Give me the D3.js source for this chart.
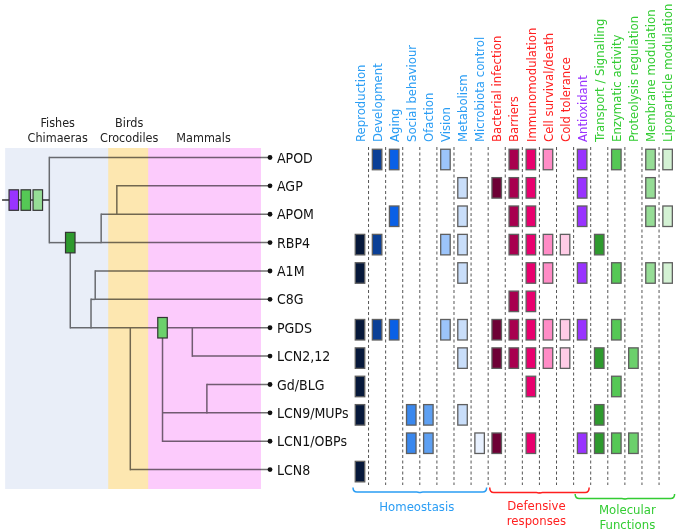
<!DOCTYPE html>
<html><head><meta charset="utf-8">
<script src="https://cdn.jsdelivr.net/npm/d3@7"></script>
<style>
body{margin:0;background:#fff}
svg{display:block;font-family:"DejaVu Sans Condensed","DejaVu Sans",sans-serif;font-stretch:condensed}
</style></head><body><svg id="c" width="677" height="532"></svg>
<script>
// ---------------- DATA ----------------
const genes = ["APOD","AGP","APOM","RBP4","A1M","C8G","PGDS","LCN2,12","Gd/BLG","LCN9/MUPs","LCN1/OBPs","LCN8"];
const functions = ["Reproduction","Development","Aging","Social behaviour","Ofaction","Vision","Metabolism","Microbiota control",
  "Bacterial infection","Barriers","Immunomodulation","Cell survival/death","Cold tolerance","Antioxidant",
  "Transport / Signalling","Enzymatic activity","Proteolysis regulation","Membrane modulation","Lipoparticle modulation"];
const functionGroup = ["H","H","H","H","H","H","H","H","D","D","D","D","D","A","M","M","M","M","M"];
const groups = [
  {key:"H", lines:["Homeostasis"], first:"Reproduction", last:"Microbiota control"},
  {key:"D", lines:["Defensive","responses"], first:"Bacterial infection", last:"Antioxidant"},
  {key:"M", lines:["Molecular","Functions"], first:"Antioxidant", last:"Lipoparticle modulation"}
];
const annotations = {
  "APOD": ["Development","Aging","Vision","Barriers","Immunomodulation","Cell survival/death","Antioxidant","Enzymatic activity","Membrane modulation","Lipoparticle modulation"],
  "AGP": ["Metabolism","Bacterial infection","Barriers","Immunomodulation","Antioxidant","Membrane modulation"],
  "APOM": ["Aging","Metabolism","Barriers","Immunomodulation","Antioxidant","Membrane modulation","Lipoparticle modulation"],
  "RBP4": ["Reproduction","Development","Vision","Metabolism","Barriers","Immunomodulation","Cell survival/death","Cold tolerance","Transport / Signalling"],
  "A1M": ["Reproduction","Metabolism","Immunomodulation","Cell survival/death","Antioxidant","Enzymatic activity","Membrane modulation","Lipoparticle modulation"],
  "C8G": ["Barriers","Immunomodulation"],
  "PGDS": ["Reproduction","Development","Aging","Vision","Metabolism","Bacterial infection","Barriers","Immunomodulation","Cell survival/death","Cold tolerance","Antioxidant","Enzymatic activity"],
  "LCN2,12": ["Reproduction","Metabolism","Bacterial infection","Barriers","Immunomodulation","Cell survival/death","Cold tolerance","Transport / Signalling","Proteolysis regulation"],
  "Gd/BLG": ["Reproduction","Immunomodulation","Enzymatic activity"],
  "LCN9/MUPs": ["Reproduction","Social behaviour","Ofaction","Metabolism","Transport / Signalling"],
  "LCN1/OBPs": ["Social behaviour","Ofaction","Microbiota control","Bacterial infection","Immunomodulation","Antioxidant","Transport / Signalling","Enzymatic activity","Proteolysis regulation"],
  "LCN8": ["Reproduction"]
};
// Cladogram: node depth in relative units (0 = root, 100 = tips); first child carries the parent's line
const treeNodes = [
  {id:"root", parent:"", depth:0},
  {id:"APOD", parent:"root", depth:100},
  {id:"n1", parent:"root", depth:9.5},
  {id:"n2", parent:"n1", depth:23.5},
  {id:"RBP4", parent:"n2", depth:100},
  {id:"n4", parent:"n2", depth:30.6},
  {id:"APOM", parent:"n4", depth:100},
  {id:"AGP", parent:"n4", depth:100},
  {id:"n3", parent:"n1", depth:18.9},
  {id:"n5", parent:"n3", depth:36.7},
  {id:"n7", parent:"n5", depth:51.3},
  {id:"n9", parent:"n7", depth:64.8},
  {id:"PGDS", parent:"n9", depth:100},
  {id:"LCN2,12", parent:"n9", depth:100},
  {id:"n10", parent:"n7", depth:71.4},
  {id:"LCN9/MUPs", parent:"n10", depth:100},
  {id:"Gd/BLG", parent:"n10", depth:100},
  {id:"LCN1/OBPs", parent:"n7", depth:100},
  {id:"LCN8", parent:"n5", depth:100},
  {id:"n6", parent:"n3", depth:20.8},
  {id:"C8G", parent:"n6", depth:100},
  {id:"A1M", parent:"n6", depth:100}
];
const rootStubDepth = -21.4;
const treeMarkers = [
  {node:"root", functions:["Antioxidant","Enzymatic activity","Membrane modulation"]},
  {node:"n1", functions:["Transport / Signalling"]},
  {node:"n7", functions:["Proteolysis regulation"]}
];
const bands = [
  {lines:["Fishes","Chimaeras"], from:-20, to:26.7},
  {lines:["Birds","Crocodiles"], from:26.7, to:44.8},
  {lines:["Mammals"], from:44.8, to:95.9}
];

// ---------------- STYLE ----------------
const fnColor = ["#06183a","#0a3f96","#0a60e6","#3a88ee","#5ea0f2","#9cc4fa","#c9defa","#e8f1ff",
  "#6e0035","#a8004f","#e8006e","#ff8cc6","#ffcce6","#9933ff",
  "#2e9a2e","#55c855","#6cd06c","#96dd96","#d4f2d4"];
const groupColor = {H:"#2a9df4", D:"#ff1f1f", A:"#9933ff", M:"#33cc33"};
const bandColor = ["#e9eef8","#fde7b0","#fccbfc"];

const svg = d3.select("#c");

// ---------------- SCALES ----------------
const y = d3.scalePoint().domain(genes).range([157.5, 469.6]);
const xc = d3.scalePoint().domain(functions).range([360, 667.6]);
const xt = d3.scaleLinear().domain([0, 100]).range([49.3, 270]);
const colorOf = f => fnColor[functions.indexOf(f)];

// ---------------- TREE ----------------
const root = d3.stratify().id(d => d.id).parentId(d => d.parent || null)(treeNodes);
root.eachAfter(n => {
  if (!n.children) n.yy = y(n.id);
  else if (n.depth === 0) n.yy = d3.mean(n.children, c => c.yy);
  else n.yy = n.children[0].yy;
});
const gTree = svg.append("g");
const lineCol = "#727272", lw = 1.5;
root.descendants().forEach(n => {
  if (n.parent) {
    gTree.append("line").attr("x1", xt(n.parent.data.depth)).attr("x2", xt(n.data.depth))
      .attr("y1", n.yy).attr("y2", n.yy).attr("stroke", lineCol).attr("stroke-width", lw);
  }
  if (n.children) {
    const ys = n.children.map(c => c.yy);
    gTree.append("line").attr("x1", xt(n.data.depth)).attr("x2", xt(n.data.depth))
      .attr("y1", d3.min(ys) - lw/2).attr("y2", d3.max(ys) + lw/2).attr("stroke", lineCol).attr("stroke-width", lw);
  }
});
gTree.append("line").attr("x1", xt(rootStubDepth)).attr("x2", xt(0)).attr("y1", root.yy).attr("y2", root.yy)
  .attr("stroke", "#333").attr("stroke-width", lw);

// bands (multiplied over the lines)
const bandTop = 148, bandBottom = 489;
svg.append("g").style("mix-blend-mode", "multiply").selectAll("rect").data(bands).join("rect")
  .attr("x", d => xt(d.from)).attr("width", d => xt(d.to) - xt(d.from))
  .attr("y", bandTop).attr("height", bandBottom - bandTop)
  .attr("fill", (d, i) => bandColor[i]).style("mix-blend-mode", "multiply");

// band labels
const gBL = svg.append("g").attr("font-size", 12.5).attr("fill", "#222").attr("text-anchor", "middle");
bands.forEach(b => {
  const cx = (xt(b.from) + xt(b.to)) / 2 + (b.lines.length > 1 ? 1 : -1);
  b.lines.forEach((t, i) => {
    gBL.append("text").attr("x", cx).attr("y", 141.5 - (b.lines.length - 1 - i) * 14.5).text(t);
  });
});

// tips
const leaves = root.leaves();
svg.append("g").selectAll("circle").data(leaves).join("circle")
  .attr("cx", d => xt(d.data.depth)).attr("cy", d => d.yy).attr("r", 2.4).attr("fill", "#111");
svg.append("g").attr("font-size", 14).attr("fill", "#111").selectAll("text").data(genes).join("text")
  .attr("x", xt(100) + 7).attr("y", d => y(d)).attr("dy", "0.36em").text(d => d);

// tree markers
const bw = 9.5, bh = 20.5;
const gM = svg.append("g");
treeMarkers.forEach(m => {
  const node = root.find(n => n.id === m.node);
  const nx = xt(node.data.depth);
  m.functions.forEach((f, i) => {
    let cx;
    if (node.depth === 0) cx = nx - 11.5 - (m.functions.length - 1 - i) * 12;
    else cx = nx + (i - (m.functions.length - 1) / 2) * 12;
    gM.append("rect").attr("x", cx - bw/2).attr("y", node.yy - bh/2).attr("width", bw).attr("height", bh)
      .attr("fill", colorOf(f)).attr("stroke", "#333").attr("stroke-width", 1.2);
  });
});

// ---------------- GRID ----------------
const gridTop = 147, gridBottom = 485;
const gD = svg.append("g");
for (let i = 0; i < functions.length - 1; i++) {
  const mx = (xc(functions[i]) + xc(functions[i + 1])) / 2;
  gD.append("line").attr("x1", mx).attr("x2", mx).attr("y1", gridTop).attr("y2", gridBottom)
    .attr("stroke", "#555").attr("stroke-width", 1).attr("stroke-dasharray", "3,2.5");
}
const cells = [];
genes.forEach(g => annotations[g].forEach(f => cells.push({g, f})));
svg.append("g").selectAll("rect").data(cells).join("rect")
  .attr("x", d => xc(d.f) - bw/2).attr("y", d => y(d.g) + 2 - bh/2).attr("width", bw).attr("height", bh)
  .attr("fill", d => colorOf(d.f)).attr("stroke", "#5f5f5f").attr("stroke-width", 1.3);

// column headers
svg.append("g").attr("font-size", 13).selectAll("text").data(functions).join("text")
  .attr("transform", d => `translate(${xc(d)},142) rotate(-90)`).attr("dy", "0.36em")
  .attr("fill", (d, i) => groupColor[functionGroup[i]]).text(d => d);

// brackets
const brY = {H:[487.5, 492], D:[487.5, 492.5], M:[494, 498.5]};
const gB = svg.append("g");
groups.forEach(gr => {
  const x0 = xc(gr.first) - 7, x1 = xc(gr.last) + 7;
  const [t, b] = brY[gr.key];
  const r = 4, xm = (x0 + x1) / 2;
  const p = `M${x0},${t} Q${x0},${b} ${x0 + r},${b} L${xm - 3},${b} Q${xm},${b} ${xm},${b + 1.2} Q${xm},${b} ${xm + 3},${b} L${x1 - r},${b} Q${x1},${b} ${x1},${t}`;
  gB.append("path").attr("d", p).attr("fill", "none").attr("stroke", groupColor[gr.key]).attr("stroke-width", 1.5);
  const base = gr.key === "H" ? 510.5 : gr.key === "D" ? 509.5 : 514;
  const dxs = gr.key === "H" ? -3 : gr.key === "D" ? -3 : 2.5;
  gr.lines.forEach((l, i) => {
    gB.append("text").attr("x", xm + dxs).attr("y", base + i * 15).attr("text-anchor", "middle")
      .attr("font-size", 13).attr("fill", groupColor[gr.key]).text(l);
  });
});
</script></body></html>
